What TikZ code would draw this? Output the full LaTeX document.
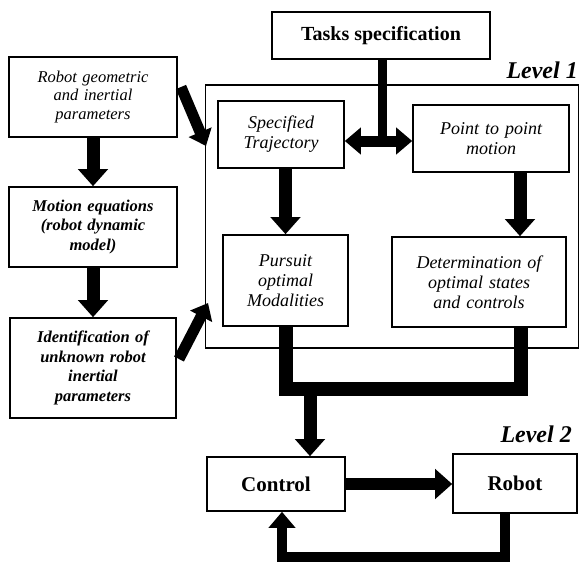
\documentclass[tikz,border=0pt]{standalone}
\usepackage{fontspec}
\setmainfont{Liberation Serif}
\usetikzlibrary{arrows.meta,calc}

\tikzset{
  box/.style={draw, line width=1.6pt, inner sep=0pt, align=center},
  itbox/.style={box, font=\fontsize{18}{20}\selectfont\itshape},
  biitbox/.style={box, font=\fontsize{16.5}{19.5}\selectfont\bfseries\itshape},
  geobox/.style={box, font=\fontsize{16.5}{18.5}\selectfont\itshape},
  bfbox/.style={box, font=\fontsize{21}{24}\selectfont\bfseries},
  levellabel/.style={font=\fontsize{24}{26}\selectfont\bfseries\itshape, inner sep=0pt},
  fat/.style={line width=13pt, -{Triangle[width=29pt,length=17pt]}},
  fatdiag/.style={line width=11pt, -{Triangle[width=24pt,length=15pt]}},
  fatboth/.style={line width=11pt, -{Triangle[width=26pt,length=16pt]}},
  fatline/.style={line width=14pt, line join=miter},
  bus/.style={line width=10pt, line join=miter},
}

\begin{document}
\begin{tikzpicture}[x=1pt,y=-1pt]
  \useasboundingbox[fill=white] (0,0) rectangle (581,562);

  % Level 1 frame
  \node[draw, line width=1.6pt, minimum width=373pt, minimum height=263pt, inner sep=0pt]
    (lvl1) at (392,216.5) {};
  \node[levellabel, anchor=base east] (lab1) at (578,78) {Level 1};
  \node[levellabel, anchor=base east] (lab2) at (572,442) {Level 2};

  % boxes
  \node[box, font=\fontsize{20}{22}\selectfont\bfseries, minimum width=218pt, minimum height=47pt]
    (tasks) at (381,35.5) {Tasks specification};

  \node[geobox, minimum width=168pt, minimum height=80pt, text width=150pt]
    (geo) at (93,97) {Robot geometric\\and inertial\\parameters};
  \node[biitbox, minimum width=168pt, minimum height=80pt, text width=150pt]
    (motion) at (93,227) {Motion equations\\(robot dynamic\\model)};
  \node[biitbox, minimum width=166pt, minimum height=100pt, text width=150pt]
    (ident) at (93,368) {Identification of\\unknown robot\\inertial\\parameters};

  \node[itbox, minimum width=126pt, minimum height=67pt, text width=115pt]
    (spec) at (281,134.5) {Specified\\Trajectory};
  \node[itbox, minimum width=156pt, minimum height=67pt, text width=145pt]
    (p2p) at (491,138.5) {Point to point\\motion};
  \node[itbox, minimum width=125pt, minimum height=91pt, text width=115pt]
    (pursuit) at (285.5,280.5) {Pursuit\\optimal\\Modalities};
  \node[itbox, minimum width=174pt, minimum height=90pt, text width=165pt]
    (determ) at (479,282) {Determination of\\optimal states\\and controls};

  \node[bfbox, minimum width=138pt, minimum height=54pt] (control) at (276,484) {Control};
  \node[bfbox, minimum width=124pt, minimum height=59pt] (robot) at (515,483.5) {Robot};

  % left column chain
  \draw[fat] (geo.south) -- (motion.north);
  \draw[fat] (motion.south) -- (ident.north);

  % into the Level 1 frame
  \coordinate (gout) at (181,87);
  \coordinate (gin) at (206,146);
  \draw[fatdiag] (gout) -- (gin);
  \coordinate (iout) at (179,359);
  \coordinate (iin) at (208,303);
  \draw[fatdiag] (iout) -- (iin);

  % task specification splits both ways
  \coordinate (split) at (382,141);
  \draw[line width=9pt] ($(tasks.south)+(1,0)$) -- (split);
  \draw[fatboth] (split) -- (spec.east |- split);
  \draw[fatboth] (split) -- (p2p.west |- split);

  % down to the optimisation stages
  \draw[fat] (spec.south -| pursuit.north) -- (pursuit.north);
  \coordinate (pdown) at (520,172);
  \draw[fat] (pdown) -- (pdown |- determ.north);

  % merge of both stages into the control
  \coordinate (mr) at (521,389);
  \coordinate (ml) at (310,389);
  \draw[fatline] (pursuit.south) |- (mr) -- (mr |- determ.south);
  \draw[fat] (ml) -- (ml |- control.north);

  % control loop
  \draw[fat, line width=12pt] (control.east) -- (robot.west |- control.east);
  \coordinate (fbr) at (505,557);
  \coordinate (fbl) at (282,557);
  \draw[bus] (fbr |- robot.south) -- (fbr) -- (fbl) -- ++(0,-20);
  \draw[line width=10pt, -{Triangle[width=26pt,length=16pt]}] ($(fbl)+(0,-15)$) -- (fbl |- control.south);
\end{tikzpicture}
\end{document}
